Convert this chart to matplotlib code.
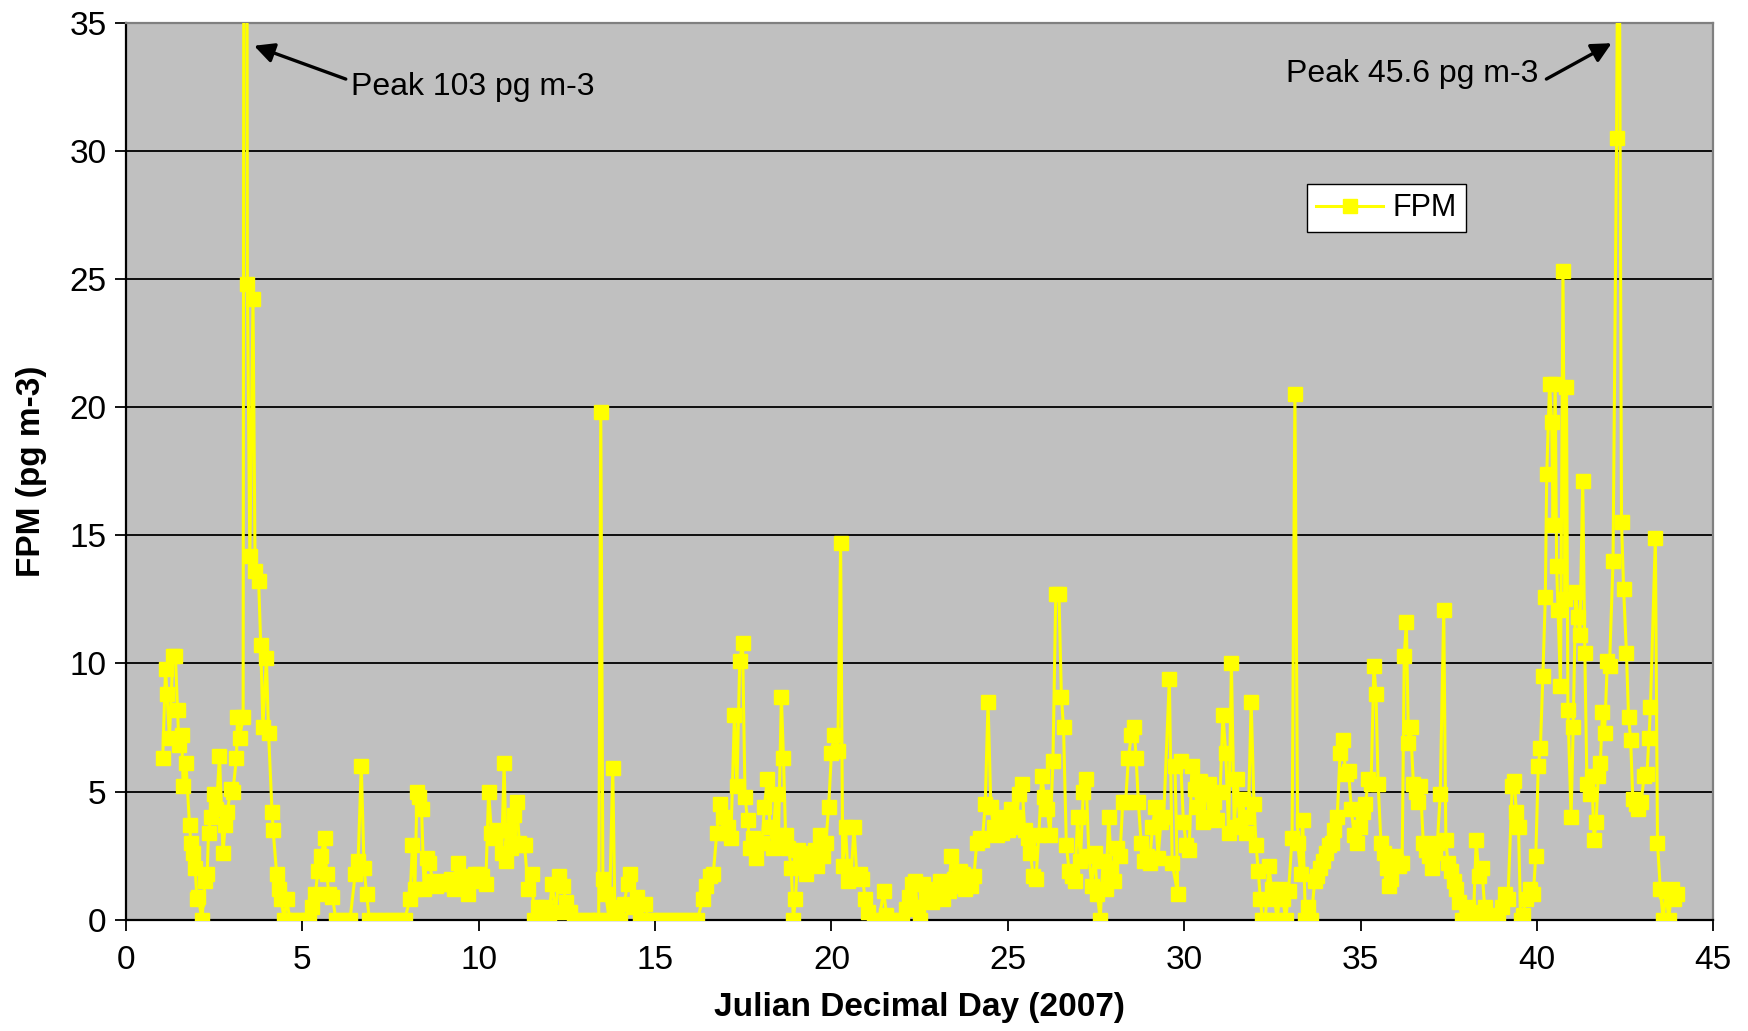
import matplotlib
matplotlib.use("Agg")
import matplotlib.pyplot as plt
from matplotlib.ticker import MultipleLocator

plt.rcParams['font.family'] = ['Liberation Sans', 'DejaVu Sans']

# Julian decimal day and FPM concentration (pg m-3) (rows of 10 pairs)
day = [
    1.04, 1.12, 1.16, 1.23, 1.33, 1.40, 1.46, 1.50, 1.58, 1.62,
    1.70, 1.80, 1.84, 1.90, 1.96, 2.01, 2.05, 2.15, 2.24, 2.30,
    2.34, 2.40, 2.50, 2.56, 2.65, 2.75, 2.81, 2.87, 2.97, 3.03,
    3.13, 3.16, 3.22, 3.32, 3.38, 3.44, 3.51, 3.60, 3.66, 3.76,
    3.82, 3.88, 3.98, 4.04, 4.14, 4.17, 4.27, 4.33, 4.39, 4.49,
    4.55, 4.65, 4.85, 5.05, 5.20, 5.28, 5.37, 5.44, 5.53, 5.63,
    5.69, 5.75, 5.85, 5.95, 6.15, 6.35, 6.50, 6.58, 6.67, 6.75,
    6.82, 6.90, 7.10, 7.30, 7.50, 7.70, 7.90, 8.05, 8.12, 8.19,
    8.25, 8.30, 8.38, 8.45, 8.52, 8.60, 8.70, 8.80, 8.90, 9.00,
    9.10, 9.20, 9.30, 9.40, 9.50, 9.60, 9.70, 9.80, 9.90, 10.00,
    10.10, 10.20, 10.28, 10.36, 10.45, 10.55, 10.65, 10.72, 10.78, 10.85,
    10.92, 11.00, 11.08, 11.15, 11.22, 11.30, 11.40, 11.50, 11.58, 11.68,
    11.78, 11.88, 11.98, 12.08, 12.18, 12.28, 12.38, 12.48, 12.58, 12.70,
    12.90, 13.10, 13.30, 13.40, 13.46, 13.52, 13.60, 13.70, 13.80, 13.86,
    13.92, 14.00, 14.12, 14.22, 14.30, 14.38, 14.48, 14.58, 14.70, 14.82,
    15.00, 15.20, 15.40, 15.60, 15.80, 16.00, 16.20, 16.35, 16.45, 16.55,
    16.65, 16.75, 16.85, 16.92, 17.00, 17.08, 17.15, 17.25, 17.32, 17.40,
    17.48, 17.55, 17.62, 17.70, 17.78, 17.86, 17.95, 18.03, 18.10, 18.18,
    18.26, 18.34, 18.42, 18.50, 18.58, 18.64, 18.70, 18.78, 18.86, 18.92,
    18.98, 19.05, 19.12, 19.20, 19.28, 19.36, 19.44, 19.52, 19.60, 19.68,
    19.76, 19.84, 19.92, 20.00, 20.08, 20.18, 20.26, 20.32, 20.40, 20.48,
    20.56, 20.64, 20.72, 20.80, 20.88, 20.96, 21.05, 21.20, 21.35, 21.48,
    21.56, 21.64, 21.80, 22.00, 22.12, 22.20, 22.28, 22.36, 22.44, 22.52,
    22.60, 22.68, 22.76, 22.84, 22.92, 23.00, 23.08, 23.16, 23.24, 23.32,
    23.40, 23.48, 23.56, 23.64, 23.72, 23.80, 23.88, 23.96, 24.04, 24.12,
    24.20, 24.28, 24.36, 24.44, 24.52, 24.60, 24.68, 24.76, 24.84, 24.92,
    25.00, 25.08, 25.16, 25.24, 25.32, 25.40, 25.48, 25.56, 25.64, 25.72,
    25.80, 25.88, 25.96, 26.04, 26.12, 26.20, 26.28, 26.36, 26.45, 26.52,
    26.58, 26.66, 26.74, 26.82, 26.90, 26.98, 27.06, 27.14, 27.22, 27.30,
    27.38, 27.46, 27.54, 27.62, 27.70, 27.78, 27.86, 27.94, 28.02, 28.10,
    28.18, 28.26, 28.34, 28.42, 28.50, 28.58, 28.64, 28.70, 28.78, 28.86,
    28.94, 29.02, 29.10, 29.18, 29.26, 29.34, 29.42, 29.58, 29.66, 29.82,
    29.74, 29.90, 29.98, 30.06, 30.14, 30.22, 30.30, 30.38, 30.46, 30.54,
    30.62, 30.70, 30.78, 30.86, 30.94, 31.02, 31.10, 31.18, 31.26, 31.34,
    31.42, 31.50, 31.58, 31.66, 31.74, 31.82, 31.90, 31.98, 32.04, 32.10,
    32.16, 32.22, 32.30, 32.40, 32.48, 32.56, 32.64, 32.72, 32.80, 32.88,
    32.96, 33.06, 33.14, 33.22, 33.30, 33.36, 33.44, 33.52, 33.60, 33.70,
    33.78, 33.86, 33.94, 34.02, 34.10, 34.18, 34.26, 34.34, 34.42, 34.50,
    34.58, 34.66, 34.74, 34.82, 34.90, 34.98, 35.06, 35.14, 35.22, 35.30,
    35.38, 35.44, 35.50, 35.58, 35.66, 35.74, 35.80, 35.86, 35.94, 36.02,
    36.10, 36.18, 36.24, 36.30, 36.36, 36.42, 36.50, 36.56, 36.62, 36.70,
    36.78, 36.86, 36.94, 37.02, 37.10, 37.18, 37.26, 37.36, 37.42, 37.48,
    37.56, 37.64, 37.72, 37.80, 37.88, 37.96, 38.04, 38.12, 38.20, 38.28,
    38.36, 38.44, 38.52, 38.58, 38.66, 38.78, 38.90, 39.00, 39.10, 39.18,
    39.30, 39.36, 39.42, 39.48, 39.54, 39.60, 39.70, 39.80, 39.90, 39.97,
    40.04, 40.10, 40.17, 40.24, 40.28, 40.36, 40.42, 40.46, 40.52, 40.56,
    40.60, 40.67, 40.74, 40.80, 40.84, 40.88, 40.97, 41.03, 41.10, 41.16,
    41.22, 41.30, 41.36, 41.42, 41.50, 41.56, 41.62, 41.68, 41.74, 41.80,
    41.86, 41.92, 42.00, 42.06, 42.16, 42.26, 42.32, 42.40, 42.46, 42.54,
    42.60, 42.66, 42.72, 42.80, 42.88, 42.96, 43.04, 43.12, 43.18, 43.22,
    43.36, 43.42, 43.50, 43.58, 43.66, 43.74, 43.82, 43.90, 43.96,
]
fpm = [
    6.3, 9.8, 8.8, 7.1, 10.3, 10.3, 8.2, 6.8, 7.2, 5.2,
    6.1, 3.7, 3.0, 2.6, 2.0, 0.8, 0.9, 0.0, 1.5, 1.8,
    3.4, 4.0, 4.9, 4.3, 6.4, 2.6, 3.7, 4.2, 5.1, 5.0,
    6.3, 7.9, 7.1, 7.9, 103.0, 24.8, 14.2, 24.2, 13.6, 13.2,
    10.7, 7.5, 10.2, 7.3, 4.2, 3.5, 1.8, 1.2, 0.8, 0.0,
    0.8, 0.0, 0.0, 0.0, 0.0, 0.5, 1.0, 1.9, 2.5, 3.2,
    1.8, 1.0, 0.9, 0.0, 0.0, 0.0, 1.8, 2.3, 6.0, 2.0,
    1.0, 0.0, 0.0, 0.0, 0.0, 0.0, 0.0, 0.8, 2.9, 1.2,
    5.0, 4.8, 4.3, 1.2, 2.4, 2.2, 1.5, 1.3, 1.4, 1.4,
    1.5, 1.6, 1.2, 2.2, 1.7, 1.4, 1.0, 1.5, 1.8, 1.8,
    1.7, 1.4, 5.0, 3.4, 3.2, 3.5, 2.6, 6.1, 2.3, 3.5,
    2.8, 4.1, 4.6, 3.0, 2.9, 2.9, 1.2, 1.8, 0.0, 0.5,
    0.0, 0.5, 0.0, 1.4, 0.3, 1.7, 1.3, 0.7, 0.3, 0.0,
    0.0, 0.0, 0.0, 0.0, 19.8, 1.6, 1.0, 0.0, 5.9, 0.3,
    0.5, 0.0, 0.6, 1.4, 1.8, 0.5, 0.9, 0.0, 0.6, 0.0,
    0.0, 0.0, 0.0, 0.0, 0.0, 0.0, 0.0, 0.8, 1.3, 1.7,
    1.8, 3.4, 4.5, 4.0, 3.4, 3.6, 3.2, 8.0, 5.2, 10.1,
    10.8, 4.8, 3.9, 2.8, 3.2, 2.4, 3.0, 3.0, 4.4, 5.5,
    3.6, 2.8, 4.9, 3.3, 8.7, 6.3, 3.3, 2.8, 2.0, 0.0,
    0.8, 2.7, 2.3, 2.1, 1.8, 2.4, 2.6, 2.7, 2.1, 3.3,
    2.5, 3.0, 4.4, 6.5, 7.2, 6.6, 14.7, 2.1, 3.6, 1.5,
    1.8, 3.6, 1.7, 1.8, 1.6, 0.8, 0.3, 0.0, 0.0, 1.1,
    0.2, 0.0, 0.0, 0.0, 0.4, 0.9, 1.4, 1.5, 0.5, 0.0,
    1.4, 0.9, 1.2, 0.7, 1.0, 1.1, 1.5, 0.8, 1.3, 1.1,
    2.5, 1.6, 1.3, 1.9, 1.8, 1.2, 1.5, 1.3, 1.7, 3.0,
    3.2, 3.1, 4.5, 8.5, 4.4, 3.6, 3.3, 3.9, 3.4, 4.0,
    3.5, 4.3, 3.6, 4.0, 4.9, 5.3, 3.5, 3.2, 2.6, 1.7,
    1.6, 3.3, 5.6, 4.8, 4.3, 3.3, 6.2, 12.7, 12.7, 8.7,
    7.5, 2.9, 1.9, 1.7, 1.5, 4.0, 2.3, 5.0, 5.5, 2.5,
    1.3, 2.6, 1.0, 0.0, 2.3, 1.2, 4.0, 2.0, 1.5, 2.8,
    2.5, 4.6, 4.6, 6.3, 7.2, 7.5, 6.3, 4.6, 3.0, 2.3,
    2.5, 2.2, 3.6, 4.4, 2.4, 3.8, 4.0, 9.4, 2.2, 1.0,
    6.0, 6.2, 3.8, 2.9, 2.7, 6.0, 5.1, 4.4, 5.4, 3.8,
    4.9, 5.3, 4.0, 4.6, 3.9, 5.0, 8.0, 6.5, 3.4, 10.0,
    3.6, 5.5, 3.7, 4.7, 3.4, 4.0, 8.5, 4.5, 2.9, 1.9,
    0.8, 0.0, 0.0, 2.1, 1.2, 0.8, 0.0, 1.2, 0.8, 0.0,
    1.1, 3.2, 20.5, 3.0, 1.8, 3.9, 0.0, 0.5, 0.0, 1.5,
    1.7, 2.0, 2.3, 2.6, 2.9, 3.0, 3.5, 4.0, 6.5, 7.0,
    5.7, 5.8, 4.3, 3.3, 3.0, 3.6, 4.2, 4.5, 5.5, 5.3,
    9.9, 8.8, 5.3, 3.0, 2.6, 2.0, 1.3, 1.6, 2.5, 2.3,
    2.1, 2.2, 10.3, 11.6, 6.9, 7.5, 5.3, 5.0, 4.6, 5.2,
    3.0, 2.7, 2.5, 2.0, 2.6, 3.0, 4.9, 12.1, 3.1, 2.2,
    1.9, 1.5, 1.2, 0.7, 0.0, 0.0, 0.5, 0.3, 0.0, 3.1,
    1.7, 2.0, 0.5, 0.0, 0.0, 0.2, 0.0, 0.5, 1.0, 0.8,
    5.2, 5.4, 4.2, 3.6, 0.0, 0.2, 0.8, 1.2, 1.0, 2.5,
    6.0, 6.7, 9.5, 12.6, 17.4, 20.9, 19.4, 15.4, 20.9, 13.8,
    12.1, 9.1, 25.3, 12.5, 20.8, 8.2, 4.0, 7.5, 12.8, 11.8,
    11.1, 17.1, 10.4, 5.3, 4.9, 5.6, 3.1, 3.8, 5.6, 6.1,
    8.1, 7.3, 10.1, 9.9, 14.0, 30.5, 45.6, 15.5, 12.9, 10.4,
    7.9, 7.0, 4.7, 4.5, 4.3, 4.6, 5.6, 5.7, 7.1, 8.3,
    14.9, 3.0, 1.2, 0.0, 1.1, 0.0, 1.2, 0.8, 1.0,
]
assert len(day) == len(fpm), (len(day), len(fpm))

fig = plt.figure(figsize=(17.48, 10.31), dpi=100)
ax = fig.add_axes([0.0721, 0.108, 0.908, 0.870])
ax.set_facecolor('#C0C0C0')

ax.plot(day, fpm, color='#FFFF00', lw=2.2, marker='s', ms=10.5,
        markerfacecolor='#FFFF00', markeredgecolor='#FFFF00', label='FPM',
        clip_on=True, zorder=3)

ax.set_xlim(0, 45)
ax.set_ylim(0, 35)
ax.xaxis.set_major_locator(MultipleLocator(5))
ax.yaxis.set_major_locator(MultipleLocator(5))
ax.yaxis.grid(True, color='black', lw=1.3)
ax.set_axisbelow(True)
ax.tick_params(axis='both', direction='out', length=8, width=1.3, labelsize=24, colors='black')
ax.tick_params(axis='x', pad=10)
ax.tick_params(axis='y', pad=6)
for s in ['left', 'bottom']:
    ax.spines[s].set_color('black')
    ax.spines[s].set_linewidth(1.6)
for s in ['top', 'right']:
    ax.spines[s].set_color('#808080')
    ax.spines[s].set_linewidth(1.6)

ax.set_xlabel('Julian Decimal Day (2007)', fontsize=24, fontweight='bold', labelpad=12)
ax.set_ylabel('FPM (pg m-3)', fontsize=24, fontweight='bold', labelpad=16)

arrow_kw = dict(arrowstyle='-|>', color='black', lw=2.4, mutation_scale=30,
                shrinkA=0, shrinkB=0)
ax.text(6.38, 32.5, 'Peak 103 pg m-3', fontsize=23, va='center', ha='left')
ax.annotate('', xy=(3.63, 34.1), xytext=(6.23, 32.8), arrowprops=arrow_kw)
ax.text(40.04, 33.0, 'Peak 45.6 pg m-3', fontsize=23, va='center', ha='right')
ax.annotate('', xy=(42.12, 34.2), xytext=(40.27, 32.8), arrowprops=arrow_kw)

leg = ax.legend(loc='upper left', bbox_to_anchor=(0.744, 0.820), borderaxespad=0,
                fontsize=22, frameon=True, fancybox=False, edgecolor='black',
                facecolor='white', framealpha=1, handlelength=2.2, borderpad=0.3,
                handletextpad=0.3)
leg.get_frame().set_linewidth(1.0)

fig.savefig('out.png', dpi=100, facecolor='white')
